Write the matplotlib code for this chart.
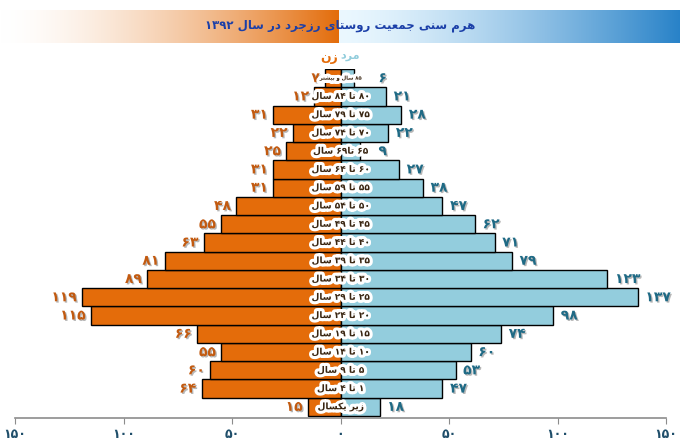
import re
import numpy as np
import matplotlib
matplotlib.use('Agg')
import matplotlib.pyplot as plt
import matplotlib.patheffects as pe

# ---------------- data ----------------
age_groups = ['زیر یکسال', '۱ تا ۴ سال', '۵ تا ۹ سال', '۱۰ تا ۱۴ سال', '۱۵ تا ۱۹ سال',
              '۲۰ تا ۲۴ سال', '۲۵ تا ۲۹ سال', '۳۰ تا ۳۴ سال', '۳۵ تا ۳۹ سال', '۴۰ تا ۴۴ سال',
              '۴۵ تا ۴۹ سال', '۵۰ تا ۵۴ سال', '۵۵ تا ۵۹ سال', '۶۰ تا ۶۴ سال', '۶۵ تا۶۹ سال',
              '۷۰ تا ۷۴ سال', '۷۵ تا ۷۹ سال', '۸۰ تا ۸۴ سال', '۸۵ سال و بیشتر']
women = [15, 64, 60, 55, 66, 115, 119, 89, 81, 63, 55, 48, 31, 31, 25, 22, 31, 12, 7]
men = [18, 47, 53, 60, 74, 98, 137, 123, 79, 71, 62, 47, 38, 27, 9, 22, 28, 21, 6]
tick_values = [-150, -100, -50, 0, 50, 100, 150]
title = 'هرم سنی جمعیت روستای رزجرد در سال ۱۳۹۲'
legend_women = 'زن'
legend_men = 'مرد'

# ---------------- simple Persian shaping ----------------
DUAL = {'ب': '\ufe8f\ufe90\ufe91\ufe92', 'پ': '\ufb56\ufb57\ufb58\ufb59',
        'ت': '\ufe95\ufe96\ufe97\ufe98', 'ج': '\ufe9d\ufe9e\ufe9f\ufea0',
        'س': '\ufeb1\ufeb2\ufeb3\ufeb4', 'ش': '\ufeb5\ufeb6\ufeb7\ufeb8',
        'ع': '\ufec9\ufeca\ufecb\ufecc', 'ک': '\ufb8e\ufb8f\ufb90\ufb91',
        'گ': '\ufb92\ufb93\ufb94\ufb95', 'ل': '\ufedd\ufede\ufedf\ufee0',
        'م': '\ufee1\ufee2\ufee3\ufee4', 'ن': '\ufee5\ufee6\ufee7\ufee8',
        'ه': '\ufee9\ufeea\ufeeb\ufeec', 'ی': '\ufbfc\ufbfd\ufbfe\ufbff'}
RIGHT = {'ا': '\ufe8d\ufe8e', 'د': '\ufea9\ufeaa', 'ر': '\ufead\ufeae',
         'ز': '\ufeaf\ufeb0', 'و': '\ufeed\ufeee'}
FA_DIGITS = '۰۱۲۳۴۵۶۷۸۹'


def shape(s):
    out = []
    n = len(s)
    for i, c in enumerate(s):
        if c in DUAL or c in RIGHT:
            prev = s[i - 1] if i > 0 else ''
            nxt = s[i + 1] if i < n - 1 else ''
            jp = prev in DUAL
            if c in DUAL:
                jn = nxt in DUAL or nxt in RIGHT
                f = DUAL[c]
                out.append(f[3] if jp and jn else f[1] if jp else f[2] if jn else f[0])
            else:
                f = RIGHT[c]
                out.append(f[1] if jp else f[0])
        else:
            out.append(c)
    return ''.join(out)


def rtl(s):
    s = shape(s)
    tokens = re.findall(r'[۰-۹0-9]+|[^۰-۹0-9]+', s)
    return ''.join(t if t[0] in FA_DIGITS + '0123456789' else t[::-1]
                   for t in reversed(tokens))


def fa_num(v):
    return str(v).translate(str.maketrans('0123456789', FA_DIGITS))


# ---------------- figure ----------------
plt.rcParams['font.family'] = ['DejaVu Sans']
W, H = 680, 444
fig = plt.figure(figsize=(W / 100, H / 100), dpi=100)

# banner
bax = fig.add_axes([0, (H - 43) / H, 1, 33 / H])
img = np.ones((1, W, 3))
orange = np.array([227, 108, 10]) / 255
blue = np.array([40, 130, 200]) / 255
lightb = np.array([235, 248, 255]) / 255
for x in range(W):
    if x < 339:
        t = (x / 339) ** 1.6
        img[0, x] = (1 - t) * np.ones(3) + t * orange
    else:
        t = ((x - 339) / (W - 339)) ** 1.4
        img[0, x] = (1 - t) * lightb + t * blue
bax.imshow(img, aspect='auto', extent=(0, W, 0, 1))
bax.set_xlim(0, W)
bax.set_ylim(0, 1)
bax.axis('off')
fig.text(340 / W, 1 - 25 / H, rtl(title), ha='center', va='center',
         fontsize=8.5, fontweight='bold', color='#1B3FA8')

# legend
fig.text(329 / W, 1 - 58 / H, rtl(legend_women), ha='center', va='center',
         fontsize=9, fontweight='bold', color='#E46C0A')
fig.text(350 / W, 1 - 56 / H, rtl(legend_men), ha='center', va='center',
         fontsize=8, fontweight='bold', color='#92CDDC')

# main axes
top_px, axis_px = 69, 418
ax = fig.add_axes([15 / W, (H - axis_px) / H, 651 / W, (axis_px - top_px) / H])
y = np.arange(len(age_groups))
w = np.array(women)
m = np.array(men)
ax.barh(y, -w, height=1, color='#E46C0A', edgecolor='black', linewidth=1.0, zorder=2)
ax.barh(y, m, height=1, color='#93CDDD', edgecolor='black', linewidth=1.0, zorder=2)
ax.set_xlim(-150, 150)
ax.set_ylim(-0.61, 18.5)

shadow = [pe.withSimplePatchShadow(offset=(1, -1), shadow_rgbFace='#888888', alpha=0.6)]
halo = [pe.withStroke(linewidth=4.5, foreground='white')]

for yi, wv, mv, lab in zip(y, w, m, age_groups):
    ax.text(-wv - 2.5, yi, fa_num(wv), ha='right', va='center', fontsize=10,
            fontweight='bold', color='#C25A10', path_effects=shadow, zorder=4)
    ax.text(max(mv, 14) + 3.5, yi, fa_num(mv), ha='left', va='center', fontsize=10,
            fontweight='bold', color='#1F6A85', path_effects=shadow, zorder=4)
    fs = 3.8 if lab.startswith('۸۵') else 6.5
    ax.text(0, yi, rtl(lab), ha='center', va='center', fontsize=fs,
            fontweight='bold', color='#3A2612', path_effects=halo, zorder=5)

for s in ['top', 'left', 'right']:
    ax.spines[s].set_visible(False)
ax.spines['bottom'].set_color('#8C8C8C')
ax.spines['bottom'].set_linewidth(1.2)
ax.set_yticks([])
ax.set_xticks(tick_values)
ax.set_xticklabels([fa_num(abs(v)) for v in tick_values], fontsize=9,
                   fontweight='bold', color='#1F4E6A')
ax.tick_params(axis='x', direction='out', length=4, color='#8C8C8C', pad=3)
ax.patch.set_alpha(0)

fig.savefig('out.png', dpi=100)
